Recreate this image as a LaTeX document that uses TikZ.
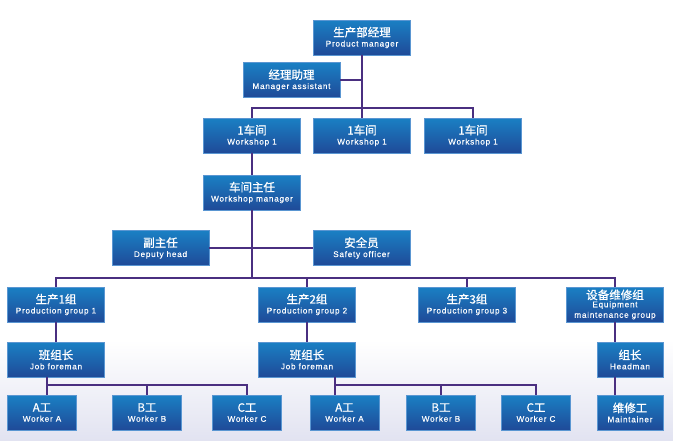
\documentclass[tikz,border=0pt]{standalone}
\usepackage{fontspec}
\setmainfont{Liberation Sans}
\newfontfamily\en[LetterSpace=9,FakeBold=0.2]{Liberation Sans}
\newfontfamily\cjk[FakeBold=0.8]{Noto Sans CJK SC}
\definecolor{boxtop}{RGB}{26,128,196}
\definecolor{boxbot}{RGB}{31,74,152}
\definecolor{boxedge}{RGB}{90,150,210}
\definecolor{linec}{RGB}{74,47,128}
\definecolor{bgbot}{RGB}{226,227,241}
\newcommand{\bx}[2]{{\cjk\fontsize{11.5}{12}\selectfont #1}\\[-2pt]{\en\fontsize{8.2}{9}\selectfont #2}}
\begin{document}
\begin{tikzpicture}[x=1pt,y=-1pt,
  orgbox/.style={rectangle, minimum width=97pt, minimum height=35pt, inner sep=0pt,
    top color=boxtop, bottom color=boxbot, draw=boxedge, line width=0.5pt,
    text=white, align=center},
  smallbox/.style={orgbox, minimum width=69pt},
  headbox/.style={orgbox, minimum width=66pt},
  conn/.style={draw=linec, line width=2pt}]
\useasboundingbox (0,0) rectangle (673,440);
\fill[top color=white, bottom color=bgbot, draw=none] (0,340) rectangle (673,440);
% level 1-2
\node[orgbox] (pm) at (362,37.5) {\bx{生产部经理}{Product manager}};
\node[orgbox] (ma) at (291.5,80) {\bx{经理助理}{Manager assistant}};
% workshops
\node[orgbox] (w1) at (252,135.5) {\bx{1车间}{Workshop 1}};
\node[orgbox] (w2) at (362,135.5) {\bx{1车间}{Workshop 1}};
\node[orgbox] (w3) at (473,135.5) {\bx{1车间}{Workshop 1}};
\node[orgbox] (wm) at (252,192.5) {\bx{车间主任}{Workshop manager}};
\node[orgbox] (dh) at (160.5,248) {\bx{副主任}{Deputy head}};
\node[orgbox] (so) at (361.5,248) {\bx{安全员}{Safety officer}};
% groups
\node[orgbox] (g1) at (56,304.5) {\bx{生产1组}{Production group 1}};
\node[orgbox] (g2) at (307,304.5) {\bx{生产2组}{Production group 2}};
\node[orgbox] (g3) at (467,304.5) {\bx{生产3组}{Production group 3}};
\node[orgbox] (em) at (615,304.5) {{\cjk\fontsize{11.5}{12}\selectfont 设备维修组}\\[-4pt]{\en\fontsize{8.2}{8}\selectfont Equipment}\\[-1.5pt]{\en\fontsize{8.2}{8}\selectfont maintenance group}};
\node[orgbox] (f1) at (56,359.5) {\bx{班组长}{Job foreman}};
\node[orgbox] (f2) at (307,359.5) {\bx{班组长}{Job foreman}};
\node[headbox] (hm) at (630,359.5) {\bx{组长}{Headman}};
% workers
\node[smallbox] (a1) at (42,412.5) {\bx{A工}{Worker A}};
\node[smallbox] (b1) at (147,412.5) {\bx{B工}{Worker B}};
\node[smallbox] (c1) at (247,412.5) {\bx{C工}{Worker C}};
\node[smallbox] (a2) at (344.5,412.5) {\bx{A工}{Worker A}};
\node[smallbox] (b2) at (441,412.5) {\bx{B工}{Worker B}};
\node[smallbox] (c2) at (536,412.5) {\bx{C工}{Worker C}};
\node[headbox] (mt) at (630,412.5) {\bx{维修工}{Maintainer}};
% junction coordinates
\coordinate (jw) at (362,108);
\coordinate (jg) at (252,278);
\coordinate (jf1) at (47,385);
\coordinate (jf2) at (335,385);
% connectors
\draw[conn] (pm.south) -- (w2.north);
\draw[conn] (ma.east) -- (ma.east -| pm.south);
\draw[conn] (w1.north) |- (jw) -| (w3.north);
\draw[conn] (w1.south) -- (wm.north);
\draw[conn] (wm.south) -- (jg);
\draw[conn] (dh.east) -- (so.west);
\draw[conn] (g1.north) |- (jg) -| (em.north);
\draw[conn] (jg -| g2.north) -- (g2.north);
\draw[conn] (jg -| g3.north) -- (g3.north);
\draw[conn] (g1.south) -- (f1.north);
\draw[conn] (g2.south) -- (f2.north);
\draw[conn] (em.south) -- (em.south |- hm.north);
\draw[conn] (f1.south -| jf1) -- (jf1 |- a1.north);
\draw[conn] (jf1) -| (c1.north);
\draw[conn] (jf1 -| b1.north) -- (b1.north);
\draw[conn] (f2.south -| jf2) -- (jf2 |- a2.north);
\draw[conn] (jf2) -| (c2.north);
\draw[conn] (jf2 -| b2.north) -- (b2.north);
\draw[conn] (hm.south -| em.south) -- (mt.north -| em.south);
\end{tikzpicture}
\end{document}
